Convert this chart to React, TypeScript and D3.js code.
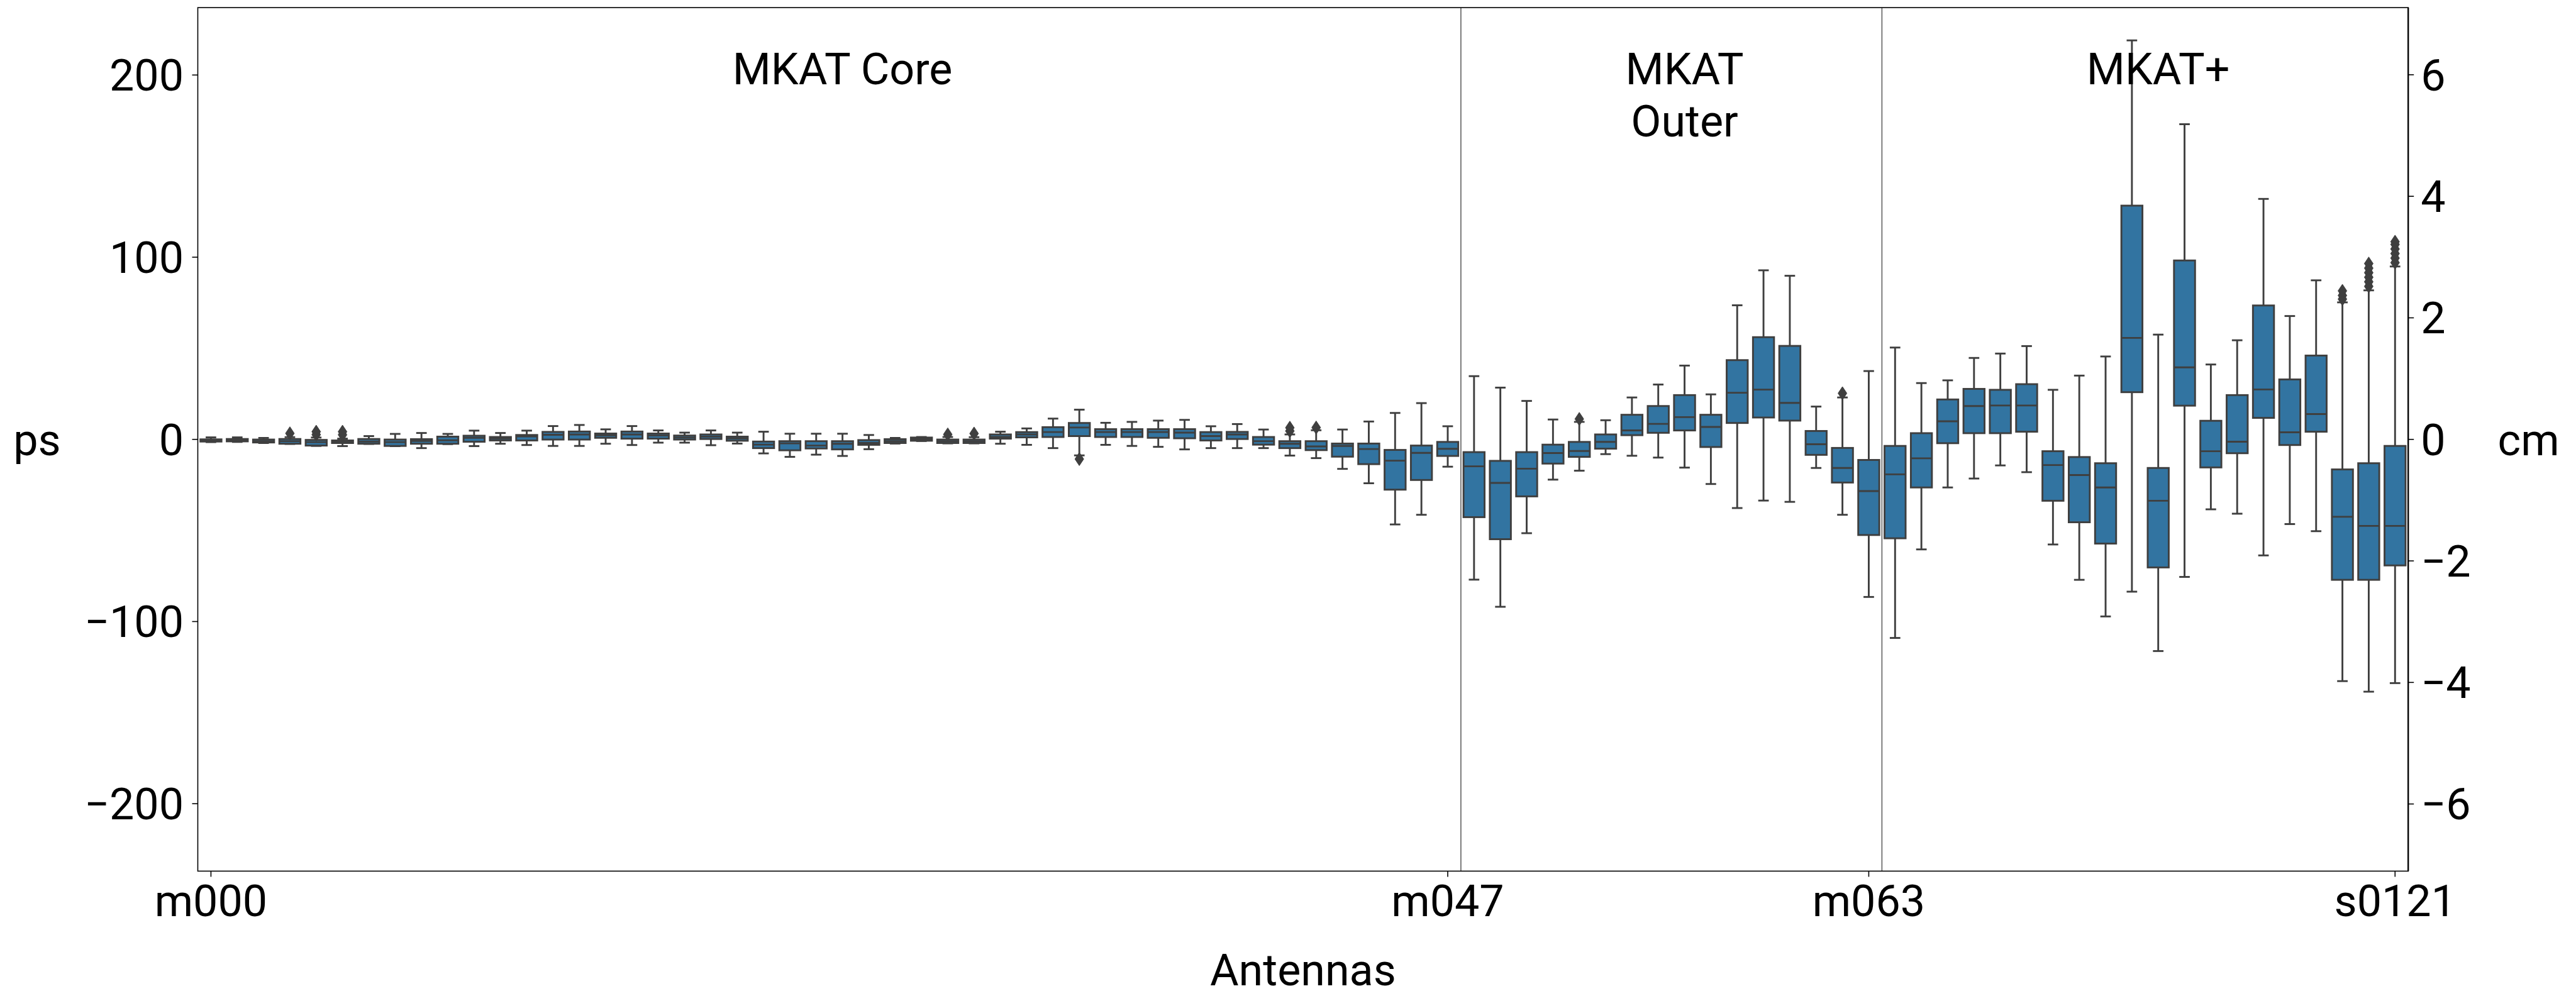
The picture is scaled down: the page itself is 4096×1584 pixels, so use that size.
import React from 'react';
import * as d3 from 'd3';

// antenna names along the x axis
const antennas = [
  'm000', 'm001', 'm002', 'm003', 'm004', 'm005', 'm006', 'm007', 'm008', 'm009',
  'm010', 'm011', 'm012', 'm013', 'm014', 'm015', 'm016', 'm017', 'm018', 'm019',
  'm020', 'm021', 'm022', 'm023', 'm024', 'm025', 'm026', 'm027', 'm028', 'm029',
  'm030', 'm031', 'm032', 'm033', 'm034', 'm035', 'm036', 'm037', 'm038', 'm039',
  'm040', 'm041', 'm042', 'm043', 'm044', 'm045', 'm046', 'm047', 'm048', 'm049',
  'm050', 'm051', 'm052', 'm053', 'm054', 'm055', 'm056', 'm057', 'm058', 'm059',
  'm060', 'm061', 'm062', 'm063',
  's0000', 's0001', 's0002', 's0003', 's0004', 's0005', 's0006', 's0007', 's0008', 's0009',
  's0010', 's0011', 's0012', 's0013', 's0014', 's0015', 's0016', 's0017', 's0018', 's0121',
];

// box statistics in ps, one entry per antenna
const whiskerLow = [
  -1.5, -1.4, -2.0, -2.5, -3.6, -3.7, -2.5, -3.7, -4.8, -2.6,
  -3.7, -2.4, -3.1, -3.6, -3.6, -2.4, -3.1, -1.8, -1.8, -3.2,
  -2.3, -7.7, -9.6, -8.4, -9.1, -5.4, -2.3, -0.9, -2.2, -2.2,
  -2.4, -3.0, -4.8, -8.8, -3.0, -3.6, -4.1, -5.5, -4.8, -4.8,
  -4.8, -8.9, -10.3, -16.2, -24.1, -46.7, -41.4, -15.0, -77.0, -91.9,
  -51.5, -22.1, -17.2, -8.1, -9.0, -10.0, -15.5, -24.5, -37.7, -33.6,
  -34.3, -15.7, -41.4, -86.5,
  -109.0, -60.4, -26.4, -21.5, -14.3, -18.0, -57.7, -77.1, -97.2, -83.6,
  -116.2, -75.5, -38.4, -40.8, -63.7, -46.5, -50.4, -132.7, -138.5, -133.8,
];
const quartile1 = [
  -1.2, -1.1, -1.7, -2.4, -3.4, -2.0, -2.4, -3.6, -2.4, -2.4,
  -1.3, -0.6, -0.6, -0.1, -0.1, 0.85, 0.4, 0.4, -0.1, 0.2,
  -0.75, -4.8, -6.0, -5.0, -5.5, -3.0, -2.0, -0.75, -2.0, -2.0,
  0.4, 1.1, 1.3, 1.8, 1.3, 1.3, 0.85, 0.6, -0.6, 0.2,
  -2.9, -4.8, -5.9, -9.5, -13.6, -27.6, -22.3, -9.1, -42.7, -54.8,
  -31.3, -13.3, -9.6, -5.1, 2.3, 3.6, 4.9, -4.2, 9.0, 12.0,
  10.3, -8.5, -23.7, -52.5,
  -54.3, -26.4, -2.1, 3.4, 3.4, 4.2, -33.7, -45.5, -57.2, 25.9,
  -70.3, 18.5, -15.4, -7.6, 11.8, -3.1, 4.2, -77.1, -77.1, -69.2,
];
const medians = [
  -0.6, -0.5, -1.0, -1.0, -1.5, -1.2, -1.2, -1.5, -0.85, -0.5,
  0.85, 0.5, 1.6, 2.5, 2.7, 2.2, 2.7, 2.1, 1.0, 1.5,
  0.5, -2.9, -2.2, -3.4, -2.4, -2.0, -1.0, 0.1, -1.0, -1.0,
  1.3, 2.7, 4.0, 6.5, 4.0, 4.0, 4.0, 3.7, 1.8, 2.7,
  -1.0, -2.4, -3.9, -3.6, -5.3, -11.7, -7.4, -5.2, -14.8, -23.9,
  -16.1, -7.5, -6.4, -1.4, 4.9, 8.5, 12.2, 6.8, 25.6, 27.3,
  20.0, -2.7, -15.7, -28.4,
  -19.2, -10.4, 9.9, 18.3, 18.6, 18.6, -14.1, -19.6, -26.4, 55.7,
  -33.7, 39.5, -6.5, -1.3, 27.4, 3.9, 13.9, -42.5, -47.5, -47.5,
];
const quartile3 = [
  0.0, 0.2, -0.1, 0.2, -0.3, -0.6, 0.2, -0.1, 0.1, 1.5,
  2.0, 1.3, 2.4, 4.1, 4.3, 3.2, 4.3, 3.2, 2.1, 2.7,
  1.5, -1.2, -1.0, -1.0, -1.0, -0.4, 0.1, 1.0, -0.1, -0.1,
  2.7, 4.0, 6.7, 9.0, 5.6, 5.6, 5.6, 5.6, 4.0, 4.1,
  1.3, -1.0, -1.0, -2.3, -2.3, -5.8, -3.4, -1.4, -7.0, -11.8,
  -7.0, -2.9, -1.4, 2.7, 13.5, 18.3, 24.3, 13.5, 43.5, 56.1,
  51.3, 4.6, -4.7, -11.3,
  -3.6, 3.4, 21.9, 27.7, 27.2, 30.3, -6.5, -9.7, -13.1, 128.3,
  -15.7, 98.2, 10.2, 24.3, 73.5, 32.9, 46.0, -16.5, -13.1, -3.6,
];
const whiskerHigh = [
  1.1, 1.1, 0.8, 1.2, 1.0, 0.4, 1.8, 3.0, 3.5, 3.0,
  4.8, 3.5, 4.8, 7.3, 7.9, 5.5, 7.3, 4.9, 3.7, 4.9,
  3.7, 4.2, 3.1, 3.1, 3.1, 2.4, 0.8, 1.3, 1.3, 1.2,
  4.2, 6.0, 11.4, 16.3, 9.1, 9.6, 10.3, 10.7, 7.2, 8.4,
  5.4, 2.7, 5.0, 5.4, 9.8, 14.5, 19.9, 7.2, 34.7, 28.4,
  21.1, 10.9, 9.6, 10.5, 23.0, 30.1, 40.5, 24.7, 73.6, 92.8,
  89.8, 18.0, 23.0, 37.5,
  50.4, 30.9, 32.4, 44.7, 47.1, 51.2, 27.2, 35.0, 45.5, 219.0,
  57.5, 173.0, 41.1, 54.4, 132.0, 67.7, 87.3, 75.2, 81.8, 94.9,
];

// outliers beyond the whiskers
const outlierAntennas = ['m003', 'm004', 'm005', 'm028', 'm029', 'm033', 'm041', 'm042', 'm052', 'm062', 's0017', 's0018', 's0121'];
const outlierValues = [
  [3.3], [2.6, 4.2], [2.5, 4.2], [2.7], [3.2], [-10.8], [4.6, 6.4], [6.5], [11.2], [25.3],
  [77, 79, 81.5],
  [84, 86.5, 89, 91.5, 94, 96.5],
  [97, 99.5, 102, 104.5, 107, 108.5],
];

// antenna groups and their separators
const groupNames = [['MKAT Core'], ['MKAT', 'Outer'], ['MKAT+']];
const groupFirst = ['m000', 'm048', 's0000'];
const groupLast = ['m047', 'm063', 's0121'];

const xTickLabels = ['m000', 'm047', 'm063', 's0121'];
const psTicks = [-200, -100, 0, 100, 200];
const cmTicks = [-6, -4, -2, 0, 2, 4, 6];
const psDomain = [-237, 237];
const CM_PER_PS = 0.029979;

const W = 4096;
const H = 1584;
const margin = { left: 314.5, right: W - 3829.2, top: 12.1, bottom: H - 1385.4 };
const FONT = 'Roboto, "Noto Sans", sans-serif';
const FS = 70;
const BOX_FILL = '#3274a1';
const LINE = '#3f3f3f';

const App = () => {
  const x = d3
    .scaleBand()
    .domain(antennas)
    .range([margin.left, W - margin.right])
    .paddingInner(0)
    .paddingOuter(0);
  const y = d3
    .scaleLinear()
    .domain(psDomain)
    .range([H - margin.bottom, margin.top]);
  const yCm = d3
    .scaleLinear()
    .domain(psDomain.map((d) => d * CM_PER_PS))
    .range([H - margin.bottom, margin.top]);

  const bw = x.bandwidth();
  const boxW = bw * 0.8;
  const capW = boxW / 2;
  const cx = (name) => (x(name) as number) + bw / 2;
  const lw = 2.9;
  const left = margin.left;
  const right = W - margin.right;
  const top = margin.top;
  const bottom = H - margin.bottom;
  const tick = 9;

  const diamond = (px, py) => {
    const h = 10.5;
    const w = 7;
    return `M${px},${py - h}L${px + w},${py}L${px},${py + h}L${px - w},${py}Z`;
  };

  return (
    <svg
      width={W}
      height={H}
      style={{ position: 'absolute', left: 0, top: 0, display: 'block', background: '#fff' }}
      fontFamily={FONT}
    >
      {/* group separators */}
      {groupLast.slice(0, -1).map((name) => {
        const sx = (x(name) as number) + bw;
        return <line key={'sep' + name} x1={sx} x2={sx} y1={top} y2={bottom} stroke="#707070" strokeWidth={1.8} />;
      })}

      {/* boxes */}
      {antennas.map((name, i) => {
        const c = cx(name);
        return (
          <g key={name} stroke={LINE} strokeWidth={lw}>
            <line x1={c} x2={c} y1={y(quartile3[i])} y2={y(whiskerHigh[i])} />
            <line x1={c} x2={c} y1={y(quartile1[i])} y2={y(whiskerLow[i])} />
            <line x1={c - capW / 2} x2={c + capW / 2} y1={y(whiskerHigh[i])} y2={y(whiskerHigh[i])} />
            <line x1={c - capW / 2} x2={c + capW / 2} y1={y(whiskerLow[i])} y2={y(whiskerLow[i])} />
            <rect
              x={c - boxW / 2}
              y={y(quartile3[i])}
              width={boxW}
              height={Math.max(0.5, y(quartile1[i]) - y(quartile3[i]))}
              fill={BOX_FILL}
            />
            <line x1={c - boxW / 2} x2={c + boxW / 2} y1={y(medians[i])} y2={y(medians[i])} />
          </g>
        );
      })}

      {/* outliers */}
      {outlierAntennas.map((name, j) =>
        outlierValues[j].map((v, k) => (
          <path key={name + k} d={diamond(cx(name), y(v))} fill={LINE} stroke={LINE} strokeWidth={1} />
        ))
      )}

      {/* group labels */}
      {groupNames.map((lines, g) => {
        const a = antennas.indexOf(groupFirst[g]);
        const b = antennas.indexOf(groupLast[g]);
        const mid = (a + b) / 2 + 0.5;
        const gx = margin.left + (mid + 0.5) * bw;
        return (
          <text key={'grp' + g} x={gx} y={133.5} fontSize={FS} textAnchor="middle" fill="#000">
            {lines.map((t, k) => (
              <tspan key={k} x={gx} y={133.5 + k * 83.2}>
                {t}
              </tspan>
            ))}
          </text>
        );
      })}

      {/* frame */}
      <rect x={left} y={top} width={right - left} height={bottom - top} fill="none" stroke="#000" strokeWidth={1.6} />
      <line x1={right} x2={right} y1={top} y2={bottom} stroke="#000" strokeWidth={2.4} />

      {/* left axis (ps) */}
      {psTicks.map((t) => (
        <g key={'ps' + t}>
          <line x1={left - tick} x2={left} y1={y(t)} y2={y(t)} stroke="#000" strokeWidth={1.6} />
          <text x={left - tick - 13.5} y={y(t)} dy="0.355em" fontSize={FS} textAnchor="end" fill="#000">
            {t < 0 ? '\u2212' + Math.abs(t) : t}
          </text>
        </g>
      ))}

      {/* right axis (cm) */}
      {cmTicks.map((t) => (
        <g key={'cm' + t}>
          <line x1={right} x2={right + tick} y1={yCm(t)} y2={yCm(t)} stroke="#000" strokeWidth={1.6} />
          <text x={right + tick + 11} y={yCm(t)} dy="0.355em" fontSize={FS} textAnchor="start" fill="#000">
            {t < 0 ? '\u2212' + Math.abs(t) : t}
          </text>
        </g>
      ))}

      {/* x axis ticks */}
      {xTickLabels.map((name) => (
        <g key={'xt' + name}>
          <line x1={cx(name)} x2={cx(name)} y1={bottom} y2={bottom + tick} stroke="#000" strokeWidth={1.6} />
          <text x={cx(name)} y={1457} fontSize={FS} textAnchor="middle" fill="#000">
            {name}
          </text>
        </g>
      ))}

      {/* axis titles */}
      <text x={(left + right) / 2} y={1567} fontSize={FS} textAnchor="middle" fill="#000">
        Antennas
      </text>
      <text x={59} y={y(0)} dy="0.355em" fontSize={FS} textAnchor="middle" fill="#000">
        ps
      </text>
      <text x={4020.6} y={y(0)} dy="0.355em" fontSize={FS} textAnchor="middle" fill="#000">
        cm
      </text>
    </svg>
  );
};

export default App;
